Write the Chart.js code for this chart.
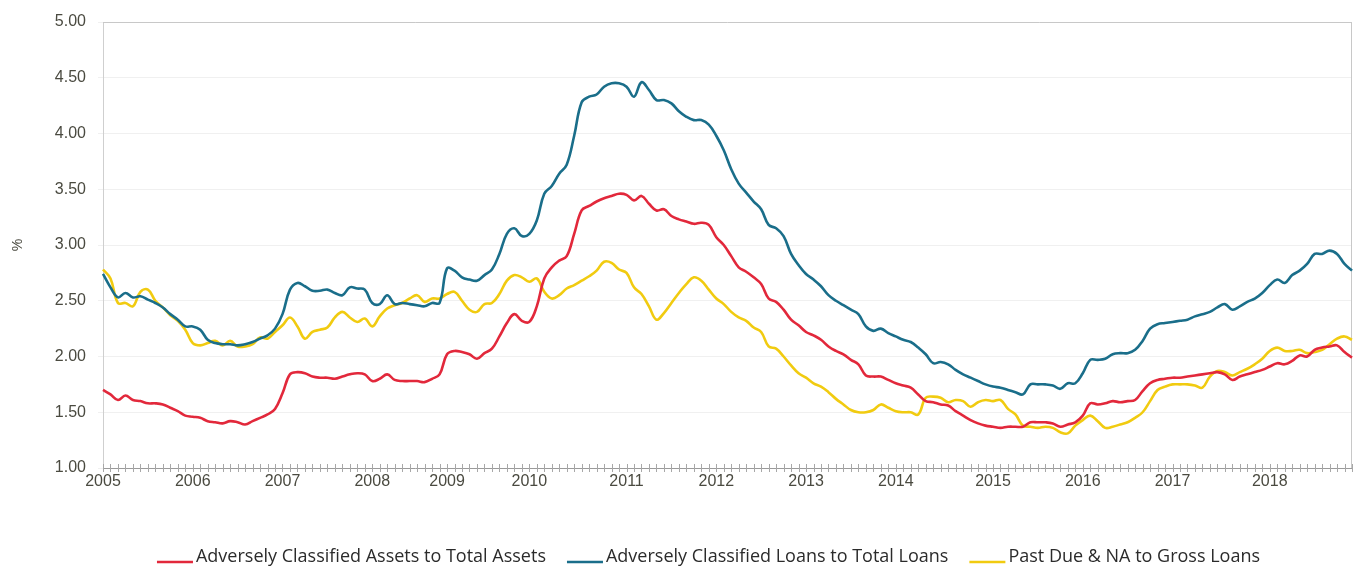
<!DOCTYPE html>
<html><head><meta charset="utf-8">
<script src="https://cdn.jsdelivr.net/npm/chart.js@4/dist/chart.umd.min.js"></script>
<style>html,body{margin:0;padding:0;background:#fff;overflow:hidden}#wrap{width:1361px;height:574px;position:relative}</style>
</head><body><div id="wrap"><canvas id="c" width="1361" height="574"></canvas></div>
<script>
// ---- data ----
const yearLabels = ['2005','2006','2007','2008','2009','2010','2011','2012','2013','2014','2015','2016','2017','2018'];
const yearStartIndex = [0,12,24,36,46,57,70,82,94,106,119,131,143,156];
const seriesNames = ['Adversely Classified Assets to Total Assets','Adversely Classified Loans to Total Loans','Past Due & NA to Gross Loans'];
const assetsToAssets = [
1.70,1.66,1.61,1.65,1.61,1.60,1.58,1.58,1.57,1.54,1.51,1.47,
1.46,1.45,1.42,1.41,1.40,1.42,1.41,1.39,1.42,1.45,1.48,1.53,
1.67,1.84,1.86,1.85,1.82,1.81,1.81,1.80,1.82,1.84,1.85,1.84,
1.78,1.80,1.84,1.79,1.78,1.78,1.78,1.77,1.80,1.84,
2.02,2.05,2.04,2.02,1.98,2.03,2.07,2.18,2.30,2.38,2.32,
2.31,2.45,2.70,2.80,2.86,2.90,3.10,3.31,3.35,3.39,3.42,3.44,3.46,
3.45,3.40,3.44,3.37,3.31,3.32,3.26,3.23,3.21,3.19,3.20,3.18,
3.07,3.00,2.90,2.80,2.76,2.71,2.65,2.52,2.49,2.42,2.33,2.28,
2.22,2.19,2.15,2.09,2.05,2.02,1.97,1.93,1.83,1.82,1.82,1.79,
1.76,1.74,1.72,1.66,1.60,1.59,1.57,1.56,1.51,1.47,1.43,1.40,1.38,
1.37,1.36,1.37,1.37,1.37,1.41,1.41,1.41,1.40,1.37,1.39,1.41,
1.47,1.58,1.57,1.58,1.60,1.59,1.60,1.61,1.69,1.76,1.79,1.80,
1.81,1.81,1.82,1.83,1.84,1.85,1.86,1.84,1.79,1.82,1.84,1.86,1.88,
1.91,1.94,1.93,1.96,2.01,2.00,2.06,2.08,2.09,2.10,2.04,1.99];
const loansToLoans = [
2.74,2.62,2.53,2.57,2.53,2.54,2.51,2.48,2.44,2.38,2.33,2.27,
2.27,2.24,2.15,2.12,2.11,2.11,2.10,2.11,2.13,2.16,2.19,2.25,
2.38,2.60,2.66,2.63,2.59,2.59,2.60,2.57,2.55,2.62,2.61,2.60,
2.48,2.47,2.55,2.47,2.48,2.47,2.46,2.45,2.48,2.48,
2.79,2.77,2.71,2.69,2.68,2.73,2.78,2.92,3.10,3.15,3.08,
3.10,3.22,3.46,3.53,3.64,3.72,3.98,4.28,4.33,4.35,4.42,4.45,4.45,
4.42,4.33,4.46,4.39,4.30,4.30,4.27,4.20,4.15,4.12,4.12,4.08,
3.98,3.85,3.68,3.55,3.47,3.39,3.32,3.18,3.15,3.08,2.92,2.82,
2.74,2.69,2.63,2.55,2.50,2.46,2.42,2.38,2.27,2.23,2.25,2.21,
2.18,2.15,2.13,2.08,2.02,1.94,1.95,1.93,1.88,1.84,1.81,1.78,1.75,
1.73,1.72,1.70,1.68,1.66,1.75,1.75,1.75,1.74,1.71,1.76,1.76,
1.85,1.97,1.97,1.98,2.02,2.03,2.03,2.06,2.14,2.25,2.29,2.30,
2.31,2.32,2.33,2.36,2.38,2.40,2.44,2.47,2.42,2.45,2.49,2.52,2.57,
2.64,2.69,2.66,2.73,2.77,2.83,2.92,2.92,2.95,2.92,2.83,2.77];
const pastDueToGross = [
2.78,2.70,2.48,2.48,2.45,2.58,2.60,2.50,2.44,2.37,2.32,2.24,
2.12,2.10,2.12,2.14,2.10,2.14,2.09,2.09,2.11,2.17,2.16,2.22,
2.28,2.35,2.27,2.16,2.22,2.24,2.26,2.35,2.40,2.35,2.31,2.34,
2.27,2.36,2.43,2.46,2.48,2.52,2.55,2.49,2.52,2.52,
2.56,2.58,2.50,2.42,2.40,2.47,2.48,2.56,2.68,2.73,2.71,
2.67,2.70,2.58,2.52,2.55,2.61,2.64,2.68,2.72,2.77,2.85,2.84,2.78,
2.75,2.62,2.56,2.45,2.33,2.39,2.48,2.57,2.65,2.71,2.68,2.60,
2.52,2.47,2.40,2.35,2.32,2.26,2.22,2.09,2.07,2.00,1.92,1.85,
1.81,1.76,1.73,1.68,1.62,1.57,1.52,1.50,1.50,1.52,1.57,1.54,
1.51,1.50,1.50,1.48,1.63,1.64,1.63,1.59,1.61,1.60,1.55,1.59,1.61,
1.60,1.61,1.53,1.48,1.38,1.37,1.36,1.37,1.36,1.32,1.31,1.38,
1.43,1.47,1.42,1.36,1.37,1.39,1.41,1.45,1.50,1.60,1.70,1.73,
1.75,1.75,1.75,1.74,1.72,1.82,1.87,1.86,1.83,1.86,1.89,1.93,1.98,
2.05,2.08,2.05,2.05,2.06,2.03,2.04,2.06,2.11,2.16,2.18,2.15];
const yMin = 1.0, yMax = 5.0, yStep = 0.5;
const colors = ['#e2283b','#1a6e8a','#f1cb10'];

// ---- build ----
const pointLabels = assetsToAssets.map((_, i) => {
  const k = yearStartIndex.indexOf(i);
  return k >= 0 ? yearLabels[k] : '';
});
const series = [assetsToAssets, loansToLoans, pastDueToGross];
const tickFont = '"Liberation Sans", Arial, sans-serif';

const framePlugin = {
  id: 'frame',
  beforeDatasetsDraw(chart) {
    const {ctx, chartArea: a, scales: {x}} = chart;
    ctx.save();
    ctx.strokeStyle = '#c8c8c8'; ctx.lineWidth = 1;
    ctx.beginPath();
    ctx.moveTo(a.left, a.top + 0.5); ctx.lineTo(a.right, a.top + 0.5);
    ctx.moveTo(a.right - 0.5, a.top); ctx.lineTo(a.right - 0.5, a.bottom);
    ctx.stroke();
    ctx.strokeStyle = '#a8a8a8';
    ctx.beginPath();
    for (let i = 0; i < pointLabels.length; i++) {
      const px = Math.round(x.getPixelForValue(i)) + 0.5;
      ctx.moveTo(px, a.bottom - 4); ctx.lineTo(px, a.bottom + 4);
    }
    ctx.stroke();
    ctx.restore();
  },
  afterDraw(chart) {
    const {ctx, chartArea: a} = chart;
    ctx.save();
    ctx.font = '18px "Open Sans", "Noto Sans", sans-serif';
    ctx.textBaseline = 'middle';
    const lineW = 36, gapT = 3, gapI = 21;
    const widths = seriesNames.map(t => ctx.measureText(t).width);
    const total = widths.reduce((s, w) => s + lineW + gapT + w, 0) + gapI * (seriesNames.length - 1);
    let xx = (a.left + a.right) / 2 - 19 - total / 2;
    const yy = 557;
    seriesNames.forEach((t, i) => {
      ctx.strokeStyle = colors[i]; ctx.lineWidth = 2.5;
      ctx.beginPath(); ctx.moveTo(xx, yy + 5); ctx.lineTo(xx + lineW, yy + 5); ctx.stroke();
      ctx.fillStyle = '#2b2b2b';
      ctx.fillText(t, xx + lineW + gapT, yy);
      xx += lineW + gapT + widths[i] + gapI;
    });
    ctx.restore();
  }
};

new Chart(document.getElementById('c'), {
  type: 'line',
  data: {
    labels: pointLabels,
    datasets: series.map((d, i) => ({
      label: seriesNames[i], data: d,
      borderColor: colors[i], backgroundColor: colors[i],
      borderWidth: 2.6, pointRadius: 0, tension: 0.4, fill: false
    }))
  },
  options: {
    responsive: false, animation: false, devicePixelRatio: 1,
    layout: {padding: {top: 22, right: 9, left: 0, bottom: 0}},
    plugins: {legend: {display: false}, tooltip: {enabled: false}, title: {display: false}},
    scales: {
      x: {
        type: 'category',
        afterFit(s) { s.height = 106; },
        grid: {display: false},
        border: {display: true, color: '#9a9a9a', width: 1},
        ticks: {autoSkip: false, maxRotation: 0, minRotation: 0, padding: -4,
          color: '#4a4a40', font: {family: tickFont, size: 16},
          callback(v, i) { return pointLabels[i]; }}
      },
      y: {
        min: yMin, max: yMax,
        afterFit(s) { s.width = 103; },
        grid: {color: 'rgba(0,0,0,0.06)', tickLength: 5, drawTicks: true},
        border: {display: true, color: '#cfcfcf'},
        title: {display: true, text: '%', color: '#4a4a40', padding: {top: 10, bottom: 0},
          font: {family: tickFont, size: 14}},
        ticks: {stepSize: yStep, padding: 12, color: '#4a4a40',
          font: {family: tickFont, size: 16},
          callback(v) { return Number(v).toFixed(2); }}
      }
    }
  },
  plugins: [framePlugin]
});
</script></body></html>
